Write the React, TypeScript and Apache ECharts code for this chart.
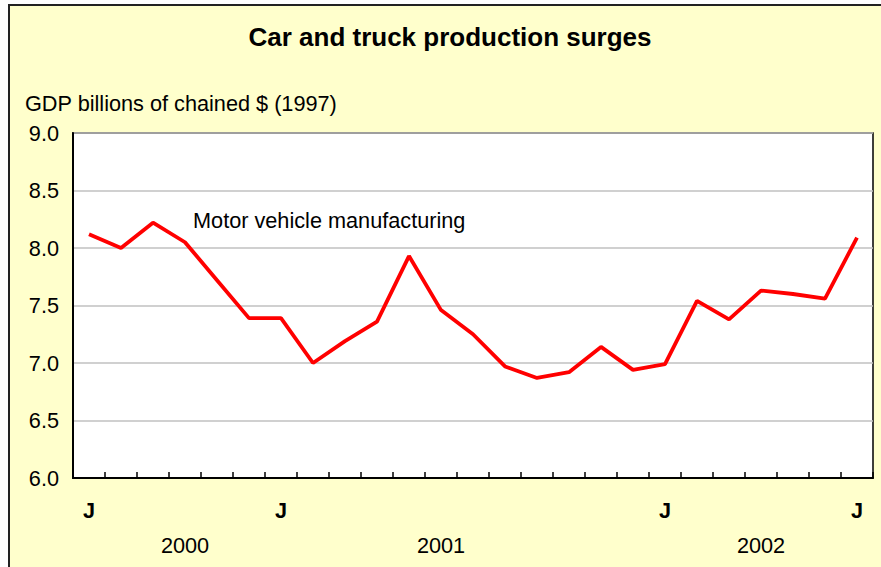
import React, { useEffect, useRef } from "react";
import * as echarts from "echarts";

const periodLabels = ["J", "", "", "", "", "", "J", "", "", "", "", "", "", "", "", "", "", "", "J", "", "", "", "", "", "J"];
const yearLabels = ["", "", "", "2000", "", "", "", "", "", "", "", "2001", "", "", "", "", "", "", "", "", "", "2002", "", "", ""];
const motorVehicle = [8.12, 8.0, 8.22, 8.05, 7.72, 7.39, 7.39, 7.0, 7.19, 7.36, 7.93, 7.46, 7.25, 6.97, 6.87, 6.92, 7.14, 6.94, 6.99, 7.54, 7.38, 7.63, 7.6, 7.56, 8.09];
const yTicks = { min: 6, max: 9, interval: 0.5 };

const FONT = "'Liberation Sans', Arial, sans-serif";
const FS = 21.7;

export default function App() {
  const ref = useRef<HTMLDivElement>(null);
  useEffect(() => {
    if (!ref.current) return;
    const chart = echarts.init(ref.current, null, { renderer: "svg" });
    const cats = periodLabels.map((_, i) => "p" + i);
    chart.setOption({
      animation: false,
      backgroundColor: "transparent",
      textStyle: { fontFamily: FONT },
      grid: {
        left: 73,
        right: 8,
        top: 133,
        bottom: 89,
        show: true,
        backgroundColor: "#ffffff",
        borderColor: "#000000",
        borderWidth: 1.5,
      },
      xAxis: [
        {
          type: "category",
          data: cats,
          boundaryGap: true,
          position: "bottom",
          axisLine: { show: true, lineStyle: { color: "#000", width: 2 } },
          axisTick: { show: true, inside: true, length: 6, interval: 0, lineStyle: { color: "#000", width: 1.5 } },
          axisLabel: {
            interval: 0,
            formatter: (_v: string, i: number) => periodLabels[i],
            fontFamily: FONT,
            fontSize: FS,
            fontWeight: "bold",
            color: "#000",
            margin: 21,
          },
          splitLine: { show: false },
        },
        {
          type: "category",
          data: cats,
          boundaryGap: true,
          position: "bottom",
          axisLine: { show: false },
          axisTick: { show: false },
          axisLabel: {
            interval: 0,
            formatter: (_v: string, i: number) => yearLabels[i],
            fontFamily: FONT,
            fontSize: FS,
            color: "#000",
            margin: 56,
          },
          splitLine: { show: false },
        },
      ],
      yAxis: {
        type: "value",
        min: yTicks.min,
        max: yTicks.max,
        interval: yTicks.interval,
        axisLine: { show: true, lineStyle: { color: "#000", width: 2 } },
        axisTick: { show: false },
        axisLabel: {
          formatter: (v: number) => v.toFixed(1),
          fontFamily: FONT,
          fontSize: FS,
          color: "#000",
          margin: 14,
        },
        splitLine: { show: true, lineStyle: { color: "#c0c0c0", width: 1.5 } },
      },
      series: [
        {
          type: "line",
          name: "Motor vehicle manufacturing",
          data: motorVehicle,
          xAxisIndex: 0,
          showSymbol: false,
          symbol: "none",
          lineStyle: { color: "#ff0000", width: 3.8 },
          z: 5,
        },
      ],
      graphic: [
        {
          type: "text",
          x: 450,
          y: 37,
          style: {
            text: "Car and truck production surges",
            fontFamily: FONT,
            fontSize: 26,
            fontWeight: "bold",
            fill: "#000",
            align: "center",
            verticalAlign: "middle",
          },
        },
        {
          type: "text",
          x: 25,
          y: 103,
          style: {
            text: "GDP billions of chained $ (1997)",
            fontFamily: FONT,
            fontSize: FS,
            fill: "#000",
            align: "left",
            verticalAlign: "middle",
          },
        },
        {
          type: "text",
          x: 193,
          y: 220,
          z: 10,
          style: {
            text: "Motor vehicle manufacturing",
            fontFamily: FONT,
            fontSize: FS,
            fill: "#000",
            align: "left",
            verticalAlign: "middle",
          },
        },
      ],
    });
    return () => chart.dispose();
  }, []);

  return (
    <div style={{ position: "absolute", left: 0, top: 0, width: 881, height: 567, background: "#fff", overflow: "hidden" }}>
      <div
        style={{
          position: "absolute",
          left: 8,
          top: 4,
          width: 900,
          height: 600,
          background: "#FFFFCC",
          border: "2px solid #222",
        }}
      />
      <div ref={ref} style={{ position: "absolute", left: 0, top: 0, width: 881, height: 567 }} />
    </div>
  );
}
